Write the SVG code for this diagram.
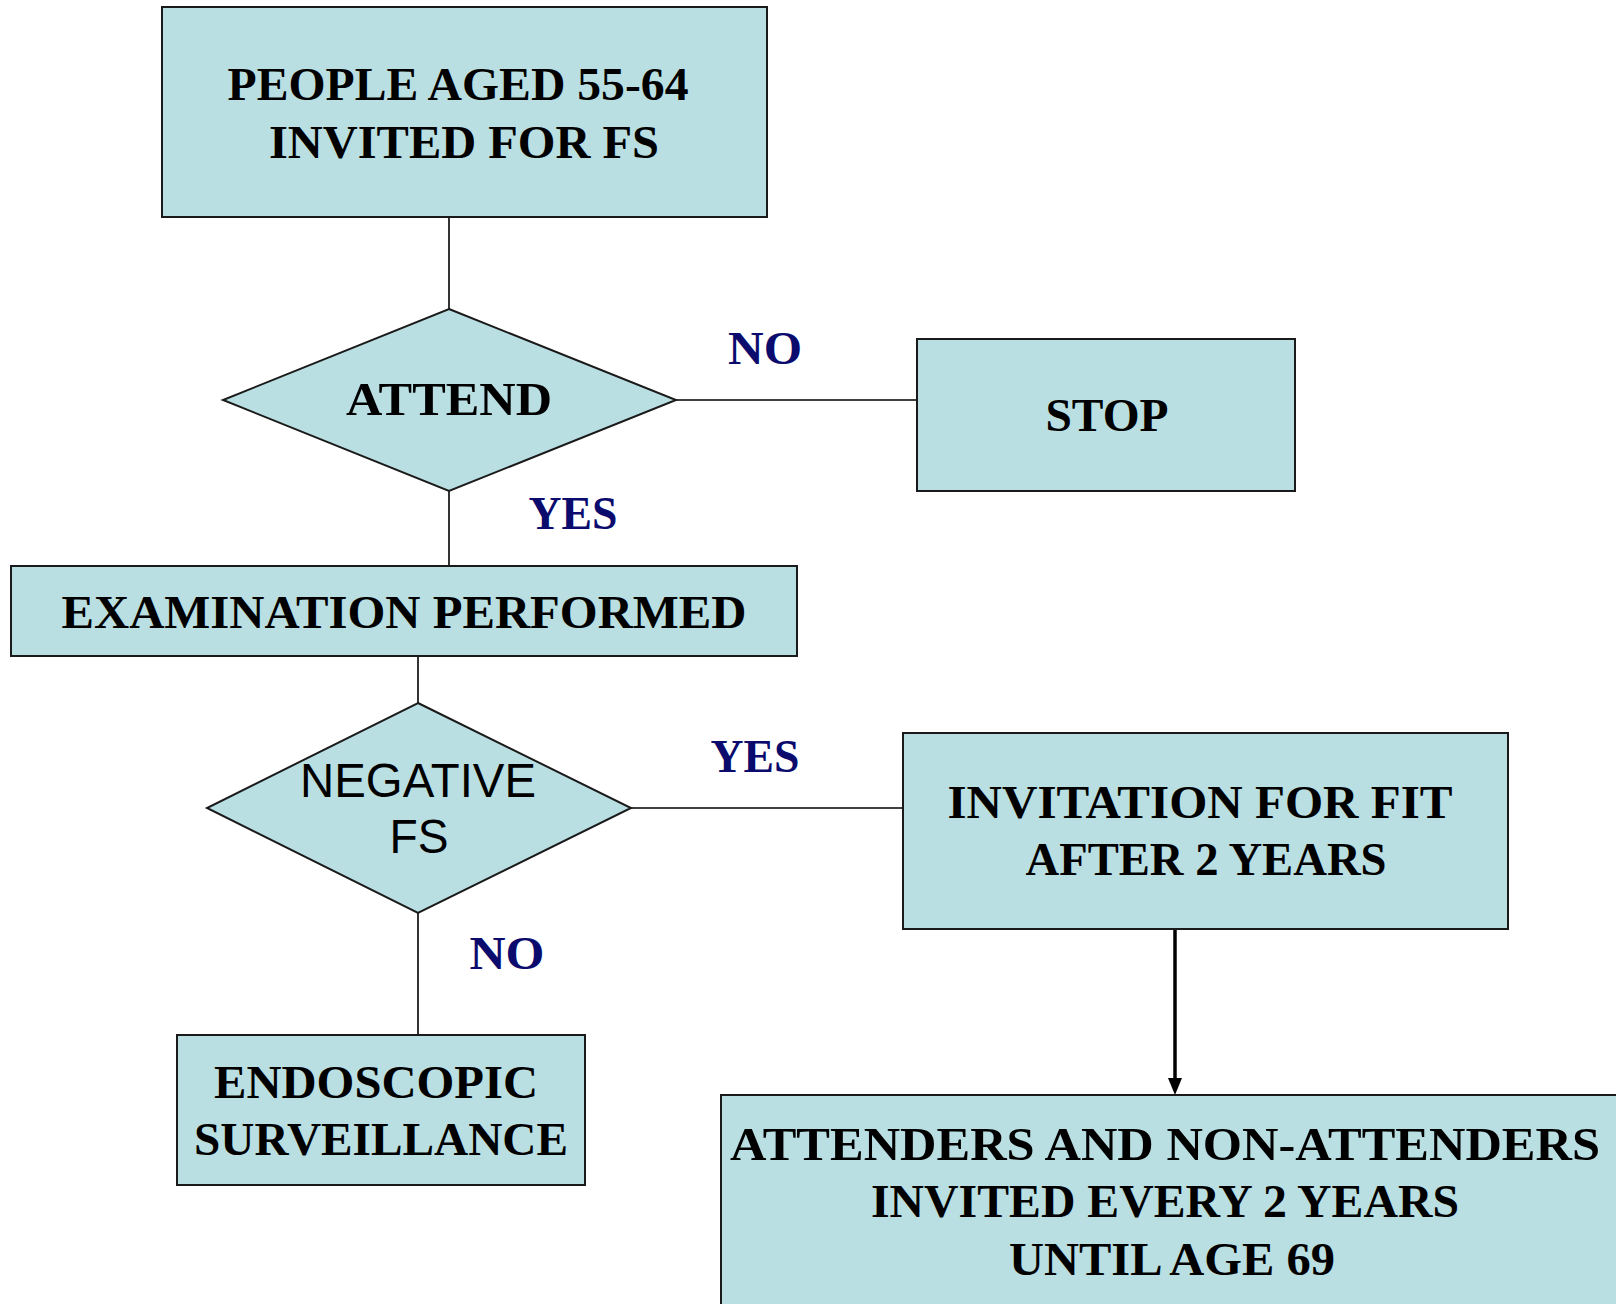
<svg xmlns="http://www.w3.org/2000/svg" width="1616" height="1304" viewBox="0 0 1616 1304">
<defs>
<style>
.box{fill:#badfe3;stroke:#1a1a1a;stroke-width:2}
.t{font-family:"Liberation Serif","Times New Roman",serif;font-weight:bold;font-size:46px;fill:#000;text-anchor:middle}
.s{font-family:"Liberation Sans",Arial,sans-serif;font-size:48px;fill:#000;text-anchor:middle}
.lab{font-family:"Liberation Serif","Times New Roman",serif;font-weight:bold;font-size:46px;fill:#0b0b6e;text-anchor:middle}
.c{stroke:#000;stroke-width:1.6;fill:none}
</style>
</defs>
<rect width="1616" height="1304" fill="#fff"/>
<g id="connectors">
<line class="c" x1="449" y1="217" x2="449" y2="309"/>
<line class="c" x1="676" y1="400" x2="917" y2="400"/>
<line class="c" x1="449" y1="491" x2="449" y2="566"/>
<line class="c" x1="418" y1="656" x2="418" y2="703"/>
<line class="c" x1="631" y1="808" x2="903" y2="808"/>
<line class="c" x1="418" y1="913" x2="418" y2="1035"/>
<line x1="1175" y1="929" x2="1175" y2="1080" stroke="#000" stroke-width="3.5"/>
<path d="M1168,1078 L1182,1078 L1175,1095 Z" fill="#000"/>
</g>
<g id="labels">
<text class="lab" x="765" y="364" textLength="74" lengthAdjust="spacingAndGlyphs">NO</text>
<text class="lab" x="573" y="529" textLength="89" lengthAdjust="spacingAndGlyphs">YES</text>
<text class="lab" x="755" y="772" textLength="89" lengthAdjust="spacingAndGlyphs">YES</text>
<text class="lab" x="507" y="969" textLength="75" lengthAdjust="spacingAndGlyphs">NO</text>
</g>
<g id="n-start">
<rect class="box" x="162" y="7" width="605" height="210"/>
<text class="t" x="458" y="100" textLength="461" lengthAdjust="spacingAndGlyphs">PEOPLE AGED 55-64</text>
<text class="t" x="464" y="158" textLength="390" lengthAdjust="spacingAndGlyphs">INVITED FOR FS</text>
</g>
<g id="n-attend">
<polygon class="box" points="449,309 676,400 449,491 223,400"/>
<text class="t" x="449" y="415" textLength="206" lengthAdjust="spacingAndGlyphs">ATTEND</text>
</g>
<g id="n-stop">
<rect class="box" x="917" y="339" width="378" height="152"/>
<text class="t" x="1107" y="431" textLength="123" lengthAdjust="spacingAndGlyphs">STOP</text>
</g>
<g id="n-exam">
<rect class="box" x="11" y="566" width="786" height="90"/>
<text class="t" x="404" y="628" textLength="685" lengthAdjust="spacingAndGlyphs">EXAMINATION PERFORMED</text>
</g>
<g id="n-negative">
<polygon class="box" points="418,703 631,808 418,913 207,808"/>
<text class="s" x="418" y="797" textLength="236" lengthAdjust="spacingAndGlyphs">NEGATIVE</text>
<text class="s" x="419" y="853" textLength="59" lengthAdjust="spacingAndGlyphs">FS</text>
</g>
<g id="n-invite">
<rect class="box" x="903" y="733" width="605" height="196"/>
<text class="t" x="1200" y="818" textLength="505" lengthAdjust="spacingAndGlyphs">INVITATION FOR FIT</text>
<text class="t" x="1206" y="875" textLength="361" lengthAdjust="spacingAndGlyphs">AFTER 2 YEARS</text>
</g>
<g id="n-endo">
<rect class="box" x="177" y="1035" width="408" height="150"/>
<text class="t" x="376" y="1098" textLength="324" lengthAdjust="spacingAndGlyphs">ENDOSCOPIC</text>
<text class="t" x="381" y="1155" textLength="374" lengthAdjust="spacingAndGlyphs">SURVEILLANCE</text>
</g>
<g id="n-every">
<rect class="box" x="721" y="1095" width="905" height="220"/>
<text class="t" x="1165" y="1160" textLength="870" lengthAdjust="spacingAndGlyphs">ATTENDERS AND NON-ATTENDERS</text>
<text class="t" x="1165" y="1217" textLength="588" lengthAdjust="spacingAndGlyphs">INVITED EVERY 2 YEARS</text>
<text class="t" x="1172" y="1275" textLength="326" lengthAdjust="spacingAndGlyphs">UNTIL AGE 69</text>
</g>
</svg>
